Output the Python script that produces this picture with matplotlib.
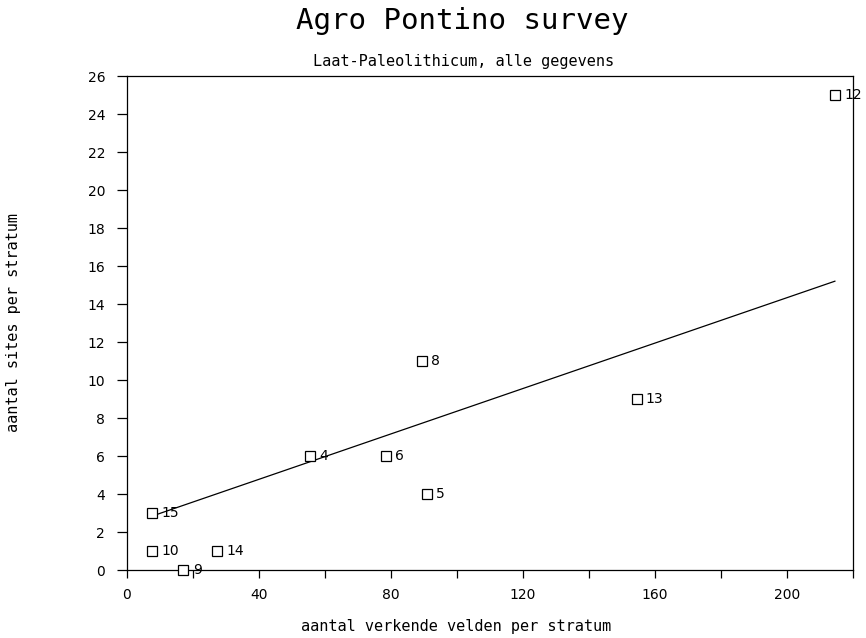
import numpy as np
import matplotlib
matplotlib.use("Agg")
import matplotlib.pyplot as plt

# stratum number, aantal verkende velden, aantal sites
strata = ["12", "8", "13", "4", "6", "5", "15", "10", "14", "9"]
velden = [214.6, 89.5, 154.5, 55.5, 78.5, 91.0, 7.6, 7.6, 27.3, 17.2]
sites = [25, 11, 9, 6, 6, 4, 3, 1, 1, 0]

# regression line as drawn
fit_x = [7.9, 214.6]
fit_y = [2.85, 15.2]

xticks = list(range(0, 221, 20))
xticklabels = [str(v) if v % 40 == 0 and v < 220 else "" for v in xticks]
yticks = list(range(0, 27, 2))

W, H = 866, 638
fig = plt.figure(figsize=(W / 100, H / 100), dpi=100)
ax = fig.add_axes([126.7 / W, (H - 570) / H, (852.7 - 126.7) / W, (570 - 76) / H])

ax.plot(fit_x, fit_y, color="black", lw=0.9)
ax.plot(velden, sites, ls="none", marker="s", ms=6.5, mfc="white", mec="black",
        mew=0.9, clip_on=False, zorder=3)
for s, x, y in zip(strata, velden, sites):
    ax.text(x + 2.8, y, s, fontsize=10, va="center", ha="left", family="DejaVu Sans")

ax.set_xlim(0, 220)
ax.set_ylim(0, 26)
ax.set_xticks(xticks)
ax.set_xticklabels(xticklabels, fontsize=10)
ax.set_yticks(yticks)
ax.set_yticklabels([str(v) for v in yticks], fontsize=10)
ax.tick_params(axis="x", direction="out", length=6, width=0.9, pad=7)
ax.tick_params(axis="y", direction="out", length=7.5, width=0.9, pad=8)
for sp in ax.spines.values():
    sp.set_linewidth(0.9)

fig.text(462 / W, (H - 29) / H, "Agro Pontino survey", fontsize=21,
         family="DejaVu Sans Mono", ha="center", va="baseline")
fig.text(464 / W, (H - 66) / H, "Laat-Paleolithicum, alle gegevens", fontsize=11,
         family="DejaVu Sans Mono", ha="center", va="baseline")
fig.text(456 / W, (H - 627) / H, "aantal verkende velden per stratum", fontsize=11,
         family="DejaVu Sans Mono", ha="center", va="center")
fig.text(14 / W, (H - 322) / H, "aantal sites per stratum", fontsize=11,
         family="DejaVu Sans Mono", ha="center", va="center", rotation=90)

fig.savefig("out.png", dpi=100)
